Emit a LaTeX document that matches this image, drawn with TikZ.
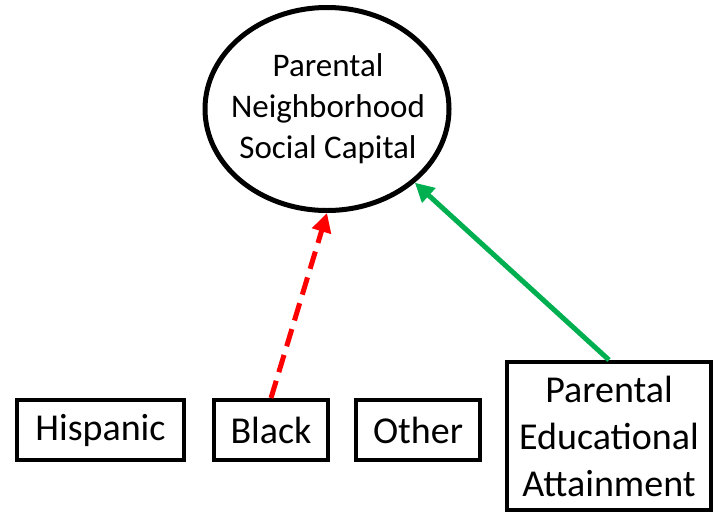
\documentclass[tikz,border=0pt]{standalone}
\usepackage{fontspec}
\setmainfont{Carlito}
\usetikzlibrary{shapes.geometric,arrows.meta}
\definecolor{arrowgreen}{RGB}{0,176,80}
\definecolor{arrowred}{RGB}{255,0,0}
\tikzset{
  varbox/.style={draw=black, line width=4pt, rectangle, inner sep=0pt, align=center,
    font=\fontsize{38}{47}\selectfont},
  latent/.style={draw=black, line width=5pt, ellipse, inner sep=0pt},
  latenttext/.style={inner sep=0pt, align=center, font=\fontsize{33}{41}\selectfont},
  effect/.style={line width=5pt, -{Triangle[length=19pt,width=19pt]}},
}
\begin{document}
\begin{tikzpicture}[x=1pt,y=-1pt]
\useasboundingbox (0,0) rectangle (717,514);
\node[latent, minimum width=244pt, minimum height=203pt] (nsc) at (327,109) {};
\node[latenttext] (nsclabel) at (328,109) {Parental\\Neighborhood\\Social Capital};
\node[varbox, minimum width=167pt, minimum height=60pt] (hisp) at (100.5,430) {Hispanic};
\node[varbox, minimum width=114pt, minimum height=60pt] (black) at (271,430) {Black};
\node[varbox, minimum width=124pt, minimum height=60pt] (other) at (418,430) {Other};
\node[varbox, minimum width=204pt, minimum height=148pt] (pea) at (609,436)
  {Parental\\Educational\\Attainment};
\draw[effect, arrowred, dash pattern=on 18pt off 9pt] (black.north) -- (nsc.south);
\draw[effect, arrowgreen] (pea.north) -- (nsc.-40);
\end{tikzpicture}
\end{document}
